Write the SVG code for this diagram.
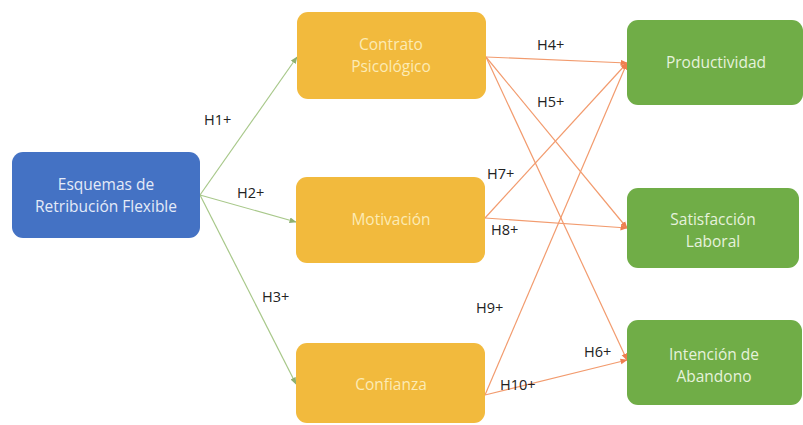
<svg xmlns="http://www.w3.org/2000/svg" width="803" height="425" viewBox="0 0 803 425">
<defs>
<style>
.box text{font-family:"Open Sans","Liberation Sans",sans-serif;font-size:15.5px;text-anchor:middle}
.blue rect{fill:#4472C4}
.blue text{fill:#E4EBF8}
.yel rect{fill:#F2BA3D}
.yel text{fill:#FCEBB5}
.grn rect{fill:#70AD47}
.grn text{fill:#E6F2DC}
.g{stroke:#A8C88A;stroke-width:1.2;fill:none;marker-end:url(#ag)}
.o{stroke:#F29B6E;stroke-width:1.2;fill:none;marker-end:url(#ao)}
.lbl{font-family:"Open Sans","Liberation Sans",sans-serif;font-size:14.5px;fill:#222}
</style>
<marker id="ag" viewBox="0 0 10 10" refX="9" refY="5" markerWidth="6" markerHeight="6" orient="auto"><path d="M0,1 L10,5 L0,9 z" fill="#8FB070"/></marker>
<marker id="ao" viewBox="0 0 10 10" refX="9" refY="5" markerWidth="6" markerHeight="6" orient="auto"><path d="M0,1 L10,5 L0,9 z" fill="#EE7F50"/></marker>
</defs>
<rect width="803" height="425" fill="#fff"/>
<g id="connectors">
<line class="g" x1="200" y1="195" x2="297" y2="57"/>
<line class="g" x1="200" y1="195" x2="296" y2="222"/>
<line class="g" x1="200" y1="195" x2="296" y2="384"/>
<line class="o" x1="486" y1="57" x2="627" y2="63"/>
<line class="o" x1="486" y1="57" x2="627" y2="228"/>
<line class="o" x1="486" y1="57" x2="627" y2="360"/>
<line class="o" x1="485" y1="218" x2="627" y2="63"/>
<line class="o" x1="485" y1="218" x2="627" y2="228"/>
<line class="o" x1="485" y1="395" x2="627" y2="63"/>
<line class="o" x1="485" y1="395" x2="627" y2="360"/>
</g>
<g id="labels">
<text class="lbl" x="204" y="125">H1+</text>
<text class="lbl" x="237" y="198">H2+</text>
<text class="lbl" x="262" y="302">H3+</text>
<text class="lbl" x="537" y="50">H4+</text>
<text class="lbl" x="537" y="107">H5+</text>
<text class="lbl" x="487" y="179">H7+</text>
<text class="lbl" x="491" y="235">H8+</text>
<text class="lbl" x="476" y="313">H9+</text>
<text class="lbl" x="584" y="357">H6+</text>
<text class="lbl" x="500" y="390">H10+</text>
</g>
<g id="esquemas" class="box blue">
<rect x="12" y="152" width="188" height="86" rx="11"/>
<text x="106" y="190">Esquemas de</text>
<text x="106" y="212">Retribución Flexible</text>
</g>
<g id="contrato" class="box yel">
<rect x="297" y="12" width="189" height="87" rx="11"/>
<text x="391" y="50">Contrato</text>
<text x="391" y="72">Psicológico</text>
</g>
<g id="motivacion" class="box yel">
<rect x="296" y="177" width="189" height="86" rx="11"/>
<text x="391" y="225">Motivación</text>
</g>
<g id="confianza" class="box yel">
<rect x="296" y="343" width="189" height="80" rx="11"/>
<text x="391" y="390">Confianza</text>
</g>
<g id="productividad" class="box grn">
<rect x="627" y="20" width="176" height="85" rx="11"/>
<text x="716" y="68">Productividad</text>
</g>
<g id="satisfaccion" class="box grn">
<rect x="627" y="188" width="172" height="80" rx="11"/>
<text x="713" y="225">Satisfacción</text>
<text x="713" y="247">Laboral</text>
</g>
<g id="intencion" class="box grn">
<rect x="627" y="320" width="175" height="85" rx="11"/>
<text x="714" y="360">Intención de</text>
<text x="714" y="382">Abandono</text>
</g>
</svg>
